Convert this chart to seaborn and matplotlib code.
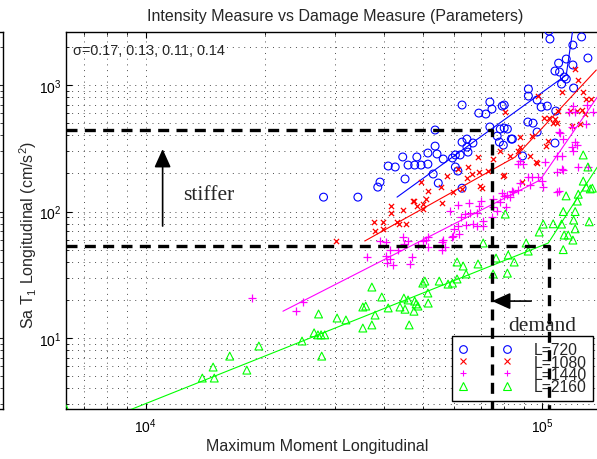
import numpy as np
import pandas as pd
import matplotlib
matplotlib.use("Agg")
import matplotlib.pyplot as plt
from matplotlib.lines import Line2D
from matplotlib.ticker import NullFormatter, LogLocator
import seaborn as sns

# ---------------- data ----------------
moment_720 = [104000, 104600, 125700, 119500, 130400, 115000, 119500, 110000, 107700, 110600,
              113700, 115000, 111900, 120000, 92300, 92300, 97100, 73800, 74700, 79300,
              80200, 99400, 103000, 69200, 72100, 62800, 108200, 92000, 94800, 73800,
              80200, 77000, 78400, 83600, 97100, 53700, 53700, 62800, 64600, 66900,
              51500, 54300, 60400, 48300, 44500, 78000, 89200, 107700, 79800, 62100,
              59400, 56300, 45900, 47700, 49500, 51500, 60400, 61300, 53100, 45100,
              54700, 62800, 28100, 34300, 40900, 42600, 39000, 38500, 65000, 81700,
              84100, 64600]
sa_720 = [2670, 2310, 2400, 2070, 1635, 1605, 1440, 1490, 1290, 1267,
          1157, 1115, 1018, 947, 930, 818, 761, 734, 646, 682,
          695, 670, 682, 600, 590, 695, 623, 510, 500, 466,
          457, 395, 449, 374, 425, 441, 329, 354, 323, 348,
          290, 285, 280, 270, 270, 354, 275, 348, 335, 280,
          265, 260, 233, 233, 233, 237, 225, 209, 198, 181,
          168, 153, 130, 130, 229, 225, 171, 156, 295, 449,
          374, 374]

moment_1080 = [121000, 123000, 127000, 129000, 133000, 112000, 97700, 80700, 117700, 122600,
               125700, 128400, 109700, 101200, 104000, 107700, 109100, 106600, 119100, 124700,
               103600, 102400, 94300, 96600, 88000, 88000, 87000, 78400, 79800, 73100,
               69700, 70500, 66600, 69200, 68900, 65000, 61300, 59600, 62800, 57500,
               55900, 50900, 50000, 50000, 48300, 47200, 44500, 45400, 30200, 37600,
               39700, 37900, 39700, 41600, 41600, 43000, 43500, 47500, 49500, 51500,
               55600, 64600, 75200, 80200, 89000, 97100, 93300, 83000]
sa_1080 = [1340, 1095, 880, 775, 775, 880, 818, 612, 623, 623,
           634, 590, 623, 548, 548, 538, 500, 500, 474, 492,
           361, 329, 395, 246, 388, 323, 300, 300, 191, 209,
           159, 153, 198, 205, 270, 225, 217, 143, 151, 191,
           117, 126, 115, 104, 111, 121, 102, 80, 58, 83,
           83, 70, 73, 111, 97, 83, 80, 121, 171, 145,
           156, 184, 260, 194, 171, 242, 275, 275]

moment_1440 = [129900, 134500, 119500, 117000, 121100, 129100, 119100, 110000, 113000, 121100,
               122600, 119100, 119500, 109100, 111900, 123300, 130400, 101800, 111900, 109100,
               100600, 100000, 97700, 94300, 93300, 92200, 88000, 87000, 89200, 88000,
               84100, 87000, 80200, 78400, 83000, 81100, 75200, 75200, 77000, 74700,
               70100, 69200, 68500, 65400, 65700, 63900, 66900, 64300, 62400, 61300,
               58600, 71000, 71000, 79300, 81700, 84500, 109100, 113000, 110000, 60000,
               59600, 61700, 56300, 55900, 56900, 51600, 50900, 48600, 44500, 44800,
               41300, 40400, 39000, 43300, 47000, 41300, 40400, 40600, 42000, 46400,
               36100, 45900, 50000, 51600, 55900, 59400, 61300, 68500, 18500, 23900,
               24900, 110600]
sa_1440 = [695, 612, 682, 612, 612, 492, 466, 425, 374, 354,
           335, 323, 300, 275, 275, 225, 225, 246, 217, 143,
           156, 174, 187, 187, 162, 187, 251, 237, 237, 168,
           145, 148, 133, 119, 130, 109, 126, 109, 101, 90.5,
           121, 111, 97, 117, 97, 95.5, 80, 78, 90.5, 113,
           101, 84, 77, 140, 135, 143, 205, 213, 145, 73,
           64, 66, 59.5, 57.4, 52.4, 62.9, 59.5, 54.4, 62.9, 55.4,
           50, 57.4, 58.5, 50, 43.7, 42.1, 44.5, 39.2, 37.8, 38.5,
           43.7, 58.5, 58.5, 52.4, 49.6, 62.9, 77, 77, 20.7, 16.3,
           19.3, 417]

moment_2160 = [126900, 130400, 126900, 129100, 132200, 133800, 123300, 114900, 122600, 113000,
               121100, 120000, 131400, 106600, 100600, 98300, 111900, 121100, 113600, 116300,
               119500, 113000, 91100, 92200, 80700, 71000, 76500, 82100, 85000, 68900,
               63200, 61000, 64300, 81700, 75200, 55000, 50600, 50000, 57900, 59400,
               61000, 51500, 44800, 47700, 51600, 45100, 47500, 46200, 37200, 39400,
               35900, 35300, 37900, 37200, 35300, 40900, 43800, 45900, 48100, 48600,
               30400, 32000, 27300, 26600, 27200, 27700, 28300, 24800, 27800, 19300,
               16300, 14800, 13900, 14900, 18000, 6300]
sa_2160 = [280, 225, 174, 156, 151, 153, 137, 133, 121, 100,
           100, 85.7, 83, 80, 79.6, 68.9, 79.6, 73, 65.2, 65.2,
           59.5, 50, 56.4, 48.7, 95.5, 56.4, 42.9, 45.3, 39.9, 38.5,
           37.1, 39.9, 32.1, 32.6, 32.1, 28.2, 28.2, 27.2, 26.7, 27.2,
           29.3, 22.7, 20.7, 19.6, 18.9, 16.9, 16.3, 12.7, 25.3, 21.1,
           17.9, 17.6, 15.2, 12.7, 12.0, 17.3, 17.6, 20, 18.6, 17.9,
           14.4, 13.9, 15.5, 11.0, 10.6, 10.6, 10.6, 9.47, 7.2, 8.65,
           7.2, 5.9, 4.83, 4.83, 5.58, 2.75]

# fitted (piecewise) lines
fit_moment_720 = [43050, 115000, 120500]
fit_sa_720 = [130, 1200, 3325]
fit_moment_1080 = [35700, 85500, 136900]
fit_sa_1080 = [58.5, 270, 1314]
fit_moment_1440 = [22200, 98800, 137700]
fit_sa_1440 = [16.3, 177.5, 804]
fit_moment_2160 = [8600, 103600, 137700]
fit_sa_2160 = [2.51, 56.4, 225]

labels = ["L=720", "L=1080", "L=1440", "L=2160"]
colors = ["#0000ff", "#ff0000", "#ff00ff", "#00ff00"]
markers = ["o", "x", "+", "^"]

# demand reference lines
demand_moment = [74750, 104000]
demand_sa = [441, 53.4]

x_limits = (6300, 144000)
y_limits = (2.75, 2625)

title = "Intensity Measure vs Damage Measure (Parameters)"
xlabel = "Maximum Moment Longitudinal"
ylabel = "Sa T$_1$ Longitudinal (cm/s$^2$)"
sigma_text = "σ=0.17, 0.13, 0.11, 0.14"

# ---------------- style ----------------
sns.set_style("ticks")
plt.rcParams["font.family"] = ["Liberation Sans", "DejaVu Sans"]
plt.rcParams["mathtext.fontset"] = "custom"
plt.rcParams["mathtext.rm"] = "Liberation Sans"
plt.rcParams["mathtext.it"] = "Liberation Sans:italic"
plt.rcParams["mathtext.default"] = "regular"

fig = plt.figure(figsize=(5.97, 4.60), dpi=100)
ax = fig.add_axes([66 / 597, 50 / 460, 539 / 597, 377 / 460])
ax.set_xscale("log")
ax.set_yscale("log")

# grid (sparse dotted, major and minor)
ax.grid(True, which="both", linestyle=(0, (0.9, 5.0)), color="#3a3a3a", linewidth=0.7)
ax.set_axisbelow(True)

series = [
    (moment_720, sa_720, fit_moment_720, fit_sa_720),
    (moment_1080, sa_1080, fit_moment_1080, fit_sa_1080),
    (moment_1440, sa_1440, fit_moment_1440, fit_sa_1440),
    (moment_2160, sa_2160, fit_moment_2160, fit_sa_2160),
]
sizes = [32, 14, 26, 32]
for (mx, sy, fx, fy), col, mk, sz in zip(series, colors, markers, sizes):
    df = pd.DataFrame({"moment": mx, "sa": sy})
    if mk in ("o", "^"):
        sns.scatterplot(data=df, x="moment", y="sa", ax=ax, marker=mk, s=sz,
                        facecolor="none", edgecolor=col, linewidth=0.8,
                        legend=False, zorder=3)
    else:
        sns.scatterplot(data=df, x="moment", y="sa", ax=ax, marker=mk, s=sz,
                        color=col, linewidth=0.9, legend=False, zorder=3)
    fdf = pd.DataFrame({"moment": fx, "sa": fy})
    sns.lineplot(data=fdf, x="moment", y="sa", ax=ax, color=col, linewidth=0.8,
                 estimator=None, sort=False, legend=False, zorder=3)

ax.set_xlim(*x_limits)
ax.set_ylim(*y_limits)

# demand dashed lines
for dm, ds in zip(demand_moment, demand_sa):
    ax.plot([x_limits[0], dm, dm], [ds, ds, y_limits[0]], color="black",
            linewidth=2.4, linestyle=(0, (3.3, 2.2)), zorder=6)

# arrows and annotation text
arrow_kw = dict(arrowstyle="-|>,head_length=0.8,head_width=0.36", color="black",
                lw=1.2, shrinkA=0, shrinkB=0, mutation_scale=14)
ax.annotate("", xy=(11040, 312), xytext=(11040, 76.8), arrowprops=arrow_kw, zorder=7)
ax.text(12400, 125.6, "stiffer", family="Liberation Serif", fontsize=15.5,
        ha="left", va="baseline")
ax.annotate("", xy=(demand_moment[0], 19.6), xytext=(93800, 19.6), arrowprops=arrow_kw, zorder=7)
ax.text(82100, 11.6, "demand", family="Liberation Serif", fontsize=15.5,
        ha="left", va="baseline", zorder=7)
ax.text(0.0125, 0.953, sigma_text, transform=ax.transAxes, fontsize=10.4,
        ha="left", va="center")

# legend
handles = [Line2D([], [], linestyle="none", marker=mk, color=col,
                  markerfacecolor="none", markeredgecolor=col,
                  markersize=(5.5 if mk in ("o", "^") else 4.5), markeredgewidth=0.8)
           for mk, col in zip(markers, colors)]
leg = ax.legend(handles, labels, loc="upper left", bbox_to_anchor=(386 / 539, 73 / 377),
                borderaxespad=0, numpoints=2, fontsize=11.3, handlelength=3.4,
                handletextpad=1.4, labelspacing=-0.17, borderpad=0.4,
                fancybox=False, framealpha=1, edgecolor="black")
leg.get_frame().set_linewidth(1.0)
leg.set_zorder(5)

# axes cosmetics
for sp in ax.spines.values():
    sp.set_linewidth(1.0)
    sp.set_color("black")
ax.tick_params(which="both", direction="in", top=True, right=True, labelsize=10,
               colors="black")
ax.tick_params(which="major", length=4, width=0.8, pad=5)
ax.tick_params(which="minor", length=2, width=0.6)
ax.tick_params(axis="y", which="major", pad=3)
ax.xaxis.set_minor_locator(LogLocator(base=10, subs=np.arange(2, 10)))
ax.yaxis.set_minor_locator(LogLocator(base=10, subs=np.arange(2, 10)))
ax.xaxis.set_minor_formatter(NullFormatter())
ax.yaxis.set_minor_formatter(NullFormatter())

ax.set_title(title, fontsize=11.5, x=0.5, y=1.032, pad=0)
ax.set_xlabel(xlabel, fontsize=11.5)
ax.set_ylabel(ylabel, fontsize=11.5)
ax.xaxis.set_label_coords((317.5 - 66) / 539, -0.078)
ax.yaxis.set_label_coords(-0.05, (410 - 235) / 377)

# partial neighbouring panel at the far left edge
lax = fig.add_axes([-0.2, 50 / 460, 0.2055, 377 / 460])
lax.set_yscale("log")
lax.set_ylim(*y_limits)
lax.set_xticks([])
lax.tick_params(axis="y", which="both", direction="in", left=False, right=True,
                labelleft=False)
lax.tick_params(axis="y", which="major", length=4)
lax.tick_params(axis="y", which="minor", length=2)
for sp in lax.spines.values():
    sp.set_linewidth(1.0)
    sp.set_color("black")

fig.savefig("out.png", dpi=100)
